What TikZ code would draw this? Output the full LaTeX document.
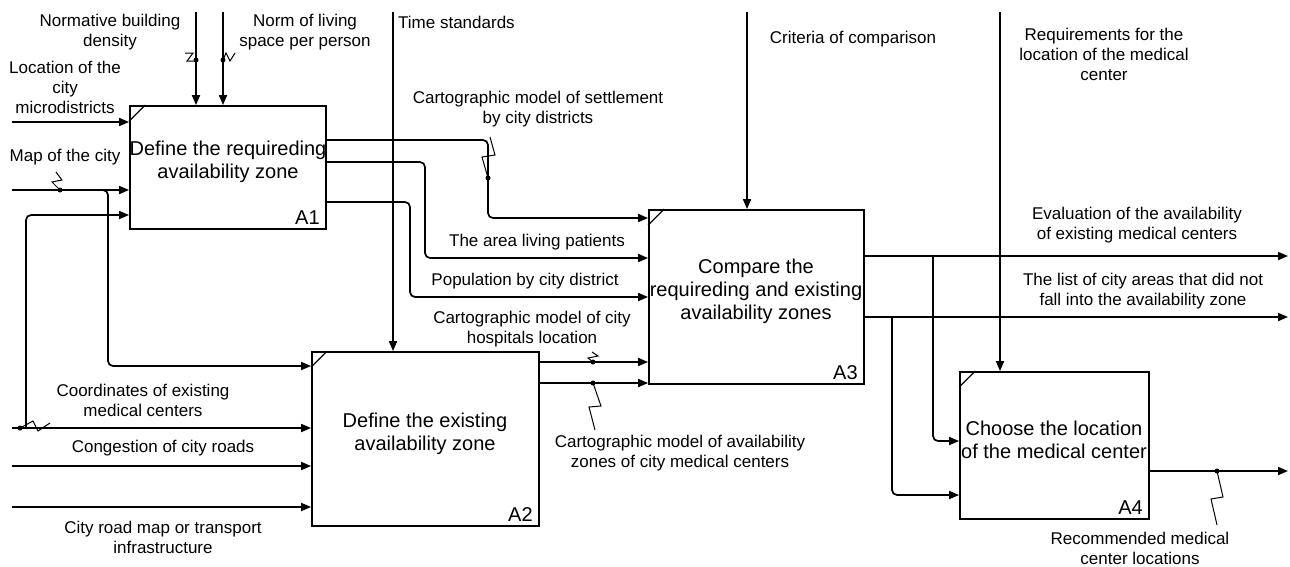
\documentclass[tikz,border=0pt]{standalone}
\usepackage{fontspec}
\setmainfont{Liberation Sans}
\usetikzlibrary{arrows.meta}

\begin{document}
\begin{tikzpicture}[x=1pt,y=-1pt,
    fn/.style={draw,line width=1.8pt,inner sep=0pt},
    fntext/.style={align=center,inner sep=0pt,font=\fontsize{20}{23}\selectfont},
    lbl/.style={align=center,inner sep=0pt,font=\fontsize{17}{20}\selectfont},
    num/.style={anchor=south east,inner sep=0pt,font=\fontsize{20}{20}\selectfont},
    flow/.style={line width=1.7pt,rounded corners=5pt,-{Triangle[length=10pt,width=8pt]}},
    squig/.style={line width=1pt},
    dot/.style={circle,fill,inner sep=0pt,minimum size=5pt}]
  \useasboundingbox (0,0) rectangle (1290,566);

  % activity boxes
  \node[fn,minimum width=196,minimum height=123] (a1) at (228,167.5) {};
  \node[fn,minimum width=227,minimum height=174] (a2) at (425.5,439) {};
  \node[fn,minimum width=215,minimum height=174] (a3) at (756.5,297) {};
  \node[fn,minimum width=189,minimum height=147] (a4) at (1054.5,445.5) {};

  \node[fntext] (t1) at (228,161.5) {Define the requireding\\availability zone};
  \node[fntext] (t2) at (425,434) {Define the existing\\availability zone};
  \node[fntext] (t3) at (756,291) {Compare the\\requireding and existing\\availability zones};
  \node[fntext] (t4) at (1054,440) {Choose the location\\of the medical center};

  \foreach \b/\n in {a1/A1,a2/A2,a3/A3,a4/A4}{
    \node[num] (n\b) at ([shift={(-7,-5)}]\b.south east) {\n};
    \draw[line width=1.3pt] ([yshift=-16]\b.north west) -- ([xshift=16]\b.north west);
  }

  % inputs
  \coordinate (loc) at (12,122);
  \coordinate (map) at (12,190);
  \coordinate (crd) at (12,428);
  \coordinate (cng) at (12,466);
  \coordinate (rd) at (12,507);
  \draw[flow] (loc) -- (loc -| a1.west);
  \draw[flow] (map) -- (map -| a1.west);
  \draw[flow] (map) -| (108,366) -- (a2.west |- 0,366);
  \draw[flow] (crd) -- (crd -| a2.west);
  \draw[flow] (26,428) |- (a1.west |- 0,215);
  \draw[flow] (cng) -- (cng -| a2.west);
  \draw[flow] (rd) -- (rd -| a2.west);

  % controls
  \coordinate (nbd) at (196,12);
  \coordinate (nls) at (223,12);
  \coordinate (ts) at (393,12);
  \coordinate (cc) at (747,12);
  \coordinate (req) at (1000,12);
  \draw[flow] (nbd) -- (nbd |- a1.north);
  \draw[flow] (nls) -- (nls |- a1.north);
  \draw[flow] (ts) -- (ts |- a2.north);
  \draw[flow] (cc) -- (cc |- a3.north);
  \draw[flow] (req) -- (req |- a4.north);

  % A1 -> A3
  \draw[flow] (a1.east |- 0,140) -- (488,140) -- (488,218) -- (a3.west |- 0,218);
  \draw[flow] (a1.east |- 0,162) -- (425,162) -- (425,258) -- (a3.west |- 0,258);
  \draw[flow] (a1.east |- 0,202) -- (410,202) -- (410,297) -- (a3.west |- 0,297);
  % A2 -> A3
  \draw[flow] (a2.east |- 0,362) -- (a3.west |- 0,362);
  \draw[flow] (a2.east |- 0,383) -- (a3.west |- 0,383);
  % A3 outputs
  \coordinate (ev) at (1288,256);
  \coordinate (lst) at (1288,317);
  \coordinate (rec) at (1288,471);
  \draw[flow] (a3.east |- ev) -- (ev);
  \draw[flow] (a3.east |- lst) -- (lst);
  \draw[flow] (933,256) -- (933,441) -- (a4.west |- 0,441);
  \draw[flow] (892,317) -- (892,495) -- (a4.west |- 0,495);
  \draw[flow] (a4.east |- rec) -- (rec);

  % squiggles
  \foreach \p in {(196,60),(223,60),(60,190),(20,428),(488,178),(593,362),(593,383),(1217,471)}
    \node[dot] at \p {};
  \draw[squig] (185,53) -- (193,53) -- (187,61) -- (196,61);
  \draw[squig] (223,60) -- (226,53) -- (230,61) -- (235,53);
  \draw[squig] (60,190) -- (52,182) -- (62,180) -- (56,172);
  \draw[squig] (20,428) -- (33,421) -- (38,431) -- (50,423);
  \draw[squig] (488,178) -- (482,157) -- (495,155) -- (490,137);
  \draw[squig] (593,362) -- (588,358) -- (598,356) -- (592,352);
  \draw[squig] (593,383) -- (601,406) -- (589,407) -- (595,430);
  \draw[squig] (1217,471) -- (1223,497) -- (1211,499) -- (1217,525);

  % labels
  \node[lbl] (l1) at (110,32) {Normative building\\density};
  \node[lbl] (l2) at (305,32) {Norm of living\\space per person};
  \node[lbl] (l3) at (65,87) {Location of the\\city\\microdistricts};
  \node[lbl] (l4) at (65,157) {Map of the city};
  \node[lbl,anchor=west] (l5) at (398,22) {Time standards};
  \node[lbl] (l6) at (538,109) {Cartographic model of settlement\\by city districts};
  \node[lbl] (l7) at (537,242) {The area living patients};
  \node[lbl] (l8) at (525,281) {Population by city district};
  \node[lbl] (l9) at (532,329.5) {Cartographic model of city\\hospitals location};
  \node[lbl] (l10) at (680,453) {Cartographic model of availability\\zones of city medical centers};
  \node[lbl] (l11) at (853,39) {Criteria of comparison};
  \node[lbl] (l12) at (1104,54) {Requirements for the\\location of the medical\\center};
  \node[lbl] (l13) at (1137,225) {Evaluation of the availability\\of existing medical centers};
  \node[lbl] (l14) at (1143,291) {The list of city areas that did not\\fall into the availability zone};
  \node[lbl] (l15) at (1140,548) {Recommended medical\\center locations};
  \node[lbl] (l16) at (143,400) {Coordinates of existing\\medical centers};
  \node[lbl] (l17) at (163,448) {Congestion of city roads};
  \node[lbl] (l18) at (163,537) {City road map or transport\\infrastructure};
\end{tikzpicture}
\end{document}
